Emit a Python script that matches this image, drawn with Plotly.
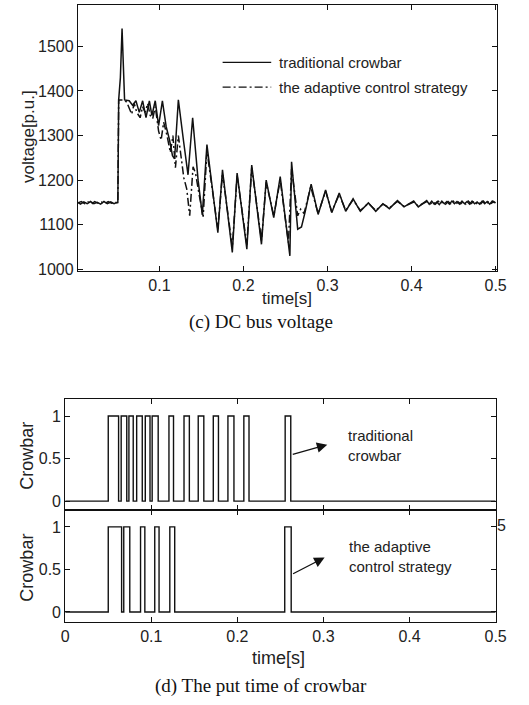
import plotly.graph_objects as go

W, H = 529, 705

# ---------------- data: DC bus voltage ----------------
trad_t = [0.003, 0.006, 0.010, 0.014, 0.018, 0.022, 0.026, 0.030, 0.034, 0.038, 0.042, 0.046, 0.0495,
          0.0505, 0.0515, 0.0535, 0.0555, 0.0575, 0.0585,
          0.064, 0.068, 0.072, 0.076, 0.080, 0.084, 0.088, 0.091, 0.095, 0.099, 0.1035, 0.108,
          0.112, 0.1155, 0.118, 0.1225, 0.1285, 0.134, 0.1395, 0.146, 0.151, 0.1565,
          0.1695, 0.175, 0.1867, 0.1924, 0.204, 0.2098, 0.2214, 0.227, 0.236, 0.2437,
          0.2552, 0.2572, 0.2645, 0.269, 0.2735, 0.2805,
          0.2888, 0.2977, 0.305, 0.3139, 0.3216, 0.3304, 0.339, 0.3486, 0.3574, 0.3659,
          0.3736, 0.3832, 0.391, 0.4025, 0.408, 0.418,
          0.421, 0.424, 0.427, 0.430, 0.433, 0.436, 0.439, 0.442, 0.445, 0.448, 0.451,
          0.454, 0.457, 0.460, 0.463, 0.466, 0.469, 0.472, 0.475, 0.478, 0.481, 0.484,
          0.487, 0.490, 0.493, 0.496, 0.499]
trad_v = [1150, 1146, 1151, 1147, 1152, 1147, 1150, 1146, 1152, 1147, 1151, 1147, 1150,
          1150, 1380, 1430, 1540, 1420, 1380,
          1378, 1368, 1378, 1352, 1378, 1340, 1378, 1345, 1378, 1322, 1378, 1320,
          1290, 1255, 1248, 1380, 1290, 1212, 1340, 1200, 1122, 1280,
          1082, 1223, 1038, 1216, 1045, 1234, 1056, 1200, 1116, 1208,
          1030, 1241, 1090, 1095, 1130, 1191,
          1123, 1178, 1127, 1171, 1130, 1158, 1130, 1149, 1130, 1147,
          1136, 1154, 1140, 1153, 1140, 1154,
          1146, 1153, 1146, 1151, 1145, 1153, 1147, 1152, 1146, 1153, 1147,
          1152, 1146, 1153, 1147, 1152, 1146, 1153, 1147, 1151, 1146, 1153,
          1147, 1152, 1146, 1153, 1149]

adap_t = [0.003, 0.007, 0.011, 0.015, 0.019, 0.023, 0.027, 0.031, 0.035, 0.039, 0.043, 0.047, 0.0495,
          0.0505, 0.0515, 0.058, 0.061, 0.064, 0.067, 0.070, 0.073, 0.077, 0.080, 0.083, 0.086,
          0.089, 0.092, 0.095, 0.099, 0.102, 0.105, 0.109, 0.113, 0.116, 0.119, 0.1225, 0.126,
          0.129, 0.1325, 0.136, 0.140, 0.143, 0.147, 0.152, 0.1565,
          0.1695, 0.175, 0.1867, 0.1924, 0.204, 0.2098, 0.2214, 0.227, 0.236, 0.2437,
          0.2535, 0.2572, 0.2645, 0.268, 0.272, 0.2800,
          0.2888, 0.2977, 0.305, 0.3139, 0.3216, 0.3304, 0.339, 0.3486, 0.3574, 0.3659,
          0.3736, 0.3832, 0.391, 0.4025, 0.408, 0.418,
          0.4225, 0.4255, 0.4285, 0.4315, 0.4345, 0.4375, 0.4405, 0.4435, 0.4465, 0.4495,
          0.4525, 0.4555, 0.4585, 0.4615, 0.4645, 0.4675, 0.4705, 0.4735, 0.4765, 0.4795,
          0.4825, 0.4855, 0.4885, 0.4915, 0.4945, 0.4975, 0.5]
adap_v = [1149, 1152, 1147, 1151, 1146, 1152, 1148, 1151, 1147, 1152, 1148, 1151, 1149,
          1150, 1380, 1380, 1375, 1360, 1348, 1372, 1352, 1340, 1365, 1352, 1372,
          1345, 1338, 1365, 1310, 1290, 1330, 1300, 1262, 1300, 1228, 1300, 1250,
          1205, 1180, 1120, 1230, 1215, 1170, 1118, 1265,
          1090, 1215, 1050, 1210, 1055, 1228, 1065, 1195, 1120, 1200,
          1060, 1225, 1120, 1135, 1125, 1185,
          1125, 1175, 1129, 1168, 1132, 1156, 1132, 1148, 1132, 1146,
          1138, 1152, 1141, 1151, 1142, 1152,
          1147, 1152, 1146, 1153, 1147, 1151, 1146, 1152, 1147, 1153,
          1146, 1151, 1147, 1152, 1146, 1153, 1147, 1151, 1146, 1152,
          1147, 1153, 1146, 1151, 1147, 1152, 1149]

# ---------------- data: crowbar on-intervals ----------------
trad_on = [0.050, 0.065, 0.074, 0.083, 0.093, 0.101, 0.1205, 0.138, 0.1545, 0.172, 0.189, 0.2075, 0.2555]
trad_off = [0.062, 0.0715, 0.079, 0.0895, 0.0985, 0.108, 0.1258, 0.1442, 0.161, 0.178, 0.196, 0.2135, 0.262]
adap_on = [0.050, 0.068, 0.0875, 0.104, 0.1215, 0.255]
adap_off = [0.0655, 0.075, 0.0925, 0.109, 0.1272, 0.2625]

vticks = [1000, 1100, 1200, 1300, 1400, 1500]
tticks_top = [0.1, 0.2, 0.3, 0.4, 0.5]
tticks_bot = [0, 0.1, 0.2, 0.3, 0.4, 0.5]
cticks = [0, 0.5, 1]


def steps(on, off):
    xs, ys = [0.0], [0]
    for a, b in zip(on, off):
        xs += [a, b]
        ys += [1, 0]
    xs.append(0.5)
    ys.append(0)
    return xs, ys


def px(x):
    return x / W


def py(y):
    return 1 - y / H


fig = go.Figure()
fig.add_trace(go.Scatter(x=trad_t, y=trad_v, mode="lines", xaxis="x", yaxis="y",
                         line=dict(color="#111", width=1.5), showlegend=False))
fig.add_trace(go.Scatter(x=adap_t, y=adap_v, mode="lines", xaxis="x", yaxis="y",
                         line=dict(color="#111", width=1.5, dash="8px,3px,2px,3px"), showlegend=False))

sx, sy = steps(trad_on, trad_off)
fig.add_trace(go.Scatter(x=sx, y=sy, mode="lines", line_shape="hv", xaxis="x2", yaxis="y2",
                         line=dict(color="#111", width=1.4), showlegend=False))
sx, sy = steps(adap_on, adap_off)
fig.add_trace(go.Scatter(x=sx, y=sy, mode="lines", line_shape="hv", xaxis="x3", yaxis="y3",
                         line=dict(color="#111", width=1.4), showlegend=False))

FONT = "Liberation Sans, Arial, sans-serif"
axcommon = dict(showgrid=False, zeroline=False, showline=True, linecolor="#111", linewidth=1,
                mirror="ticks", ticks="inside", ticklen=5, tickcolor="#111",
                tickfont=dict(family=FONT, size=16, color="#222"))

fig.update_layout(
    width=W, height=H, margin=dict(l=0, r=0, t=0, b=0),
    paper_bgcolor="white", plot_bgcolor="white",
    xaxis=dict(domain=[px(76), px(507)], range=[0.0029, 0.5012], tickvals=tticks_top,
               ticktext=[str(v) for v in tticks_top], anchor="y", **axcommon),
    yaxis=dict(domain=[py(274), py(5)], range=[995.5, 1593], tickvals=vticks, anchor="x", **axcommon),
    xaxis2=dict(domain=[px(63), px(506)], range=[0, 0.5], tickvals=tticks_bot, showticklabels=False,
                anchor="y2", **axcommon),
    yaxis2=dict(domain=[py(515), py(403)], range=[-0.103, 1.2], tickvals=cticks,
                ticktext=["0", "0.5", "1"], anchor="x2", **axcommon),
    xaxis3=dict(domain=[px(63), px(506)], range=[0, 0.5], tickvals=tticks_bot,
                ticktext=["0", "0.1", "0.2", "0.3", "0.4", "0.5"], anchor="y3", **axcommon),
    yaxis3=dict(domain=[py(628), py(515)], range=[-0.115, 1.2], tickvals=cticks,
                ticktext=["0", "0.5", "1"], anchor="x3", **axcommon),
)

# legend drawn manually
fig.add_shape(type="line", xref="paper", yref="paper", x0=px(225), x1=px(275), y0=py(63), y1=py(63),
              line=dict(color="#111", width=1.3))
fig.add_shape(type="line", xref="paper", yref="paper", x0=px(225), x1=px(275), y0=py(88), y1=py(88),
              line=dict(color="#111", width=1.3, dash="8px,3px,2px,3px"))

ann = []


def text(x, y, s, size, family=FONT, xanchor="center", angle=0, color="#222", align="center"):
    ann.append(dict(x=px(x), y=py(y), xref="paper", yref="paper", text=s, showarrow=False,
                    xanchor=xanchor, yanchor="middle", textangle=angle, align=align,
                    font=dict(family=family, size=size, color=color)))


text(281, 63, "traditional crowbar", 15, xanchor="left")
text(281, 88, "the adaptive control strategy", 15, xanchor="left")
text(25, 138, "voltage[p.u.]", 17, angle=-90)
text(291, 301, "time[s]", 17)
text(264, 325, "(c) DC bus voltage", 19, family="Liberation Serif, Times New Roman, serif", color="#111")
text(24, 460, "Crowbar", 18, angle=-90)
text(24, 573, "Crowbar", 18, angle=-90)
text(282, 665, "time[s]", 18)
text(265, 693, "(d) The put time of crowbar", 19, family="Liberation Serif, Times New Roman, serif",
     color="#111")
text(512, 531, "5", 16)
text(352, 450, "traditional<br>crowbar", 15, xanchor="left", align="left")
text(353, 562, "the adaptive<br>control strategy", 15, xanchor="left", align="left")

# arrows
ann.append(dict(x=0.3044, y=0.663, xref="x2", yref="y2", ax=-36, ay=10, text="", showarrow=True,
                arrowhead=2, arrowsize=1.6, arrowwidth=1.3, arrowcolor="#111"))
ann.append(dict(x=0.3013, y=0.64, xref="x3", yref="y3", ax=-33, ay=17, text="", showarrow=True,
                arrowhead=2, arrowsize=1.6, arrowwidth=1.3, arrowcolor="#111"))

fig.update_layout(annotations=ann)
fig.write_html("out.html")
